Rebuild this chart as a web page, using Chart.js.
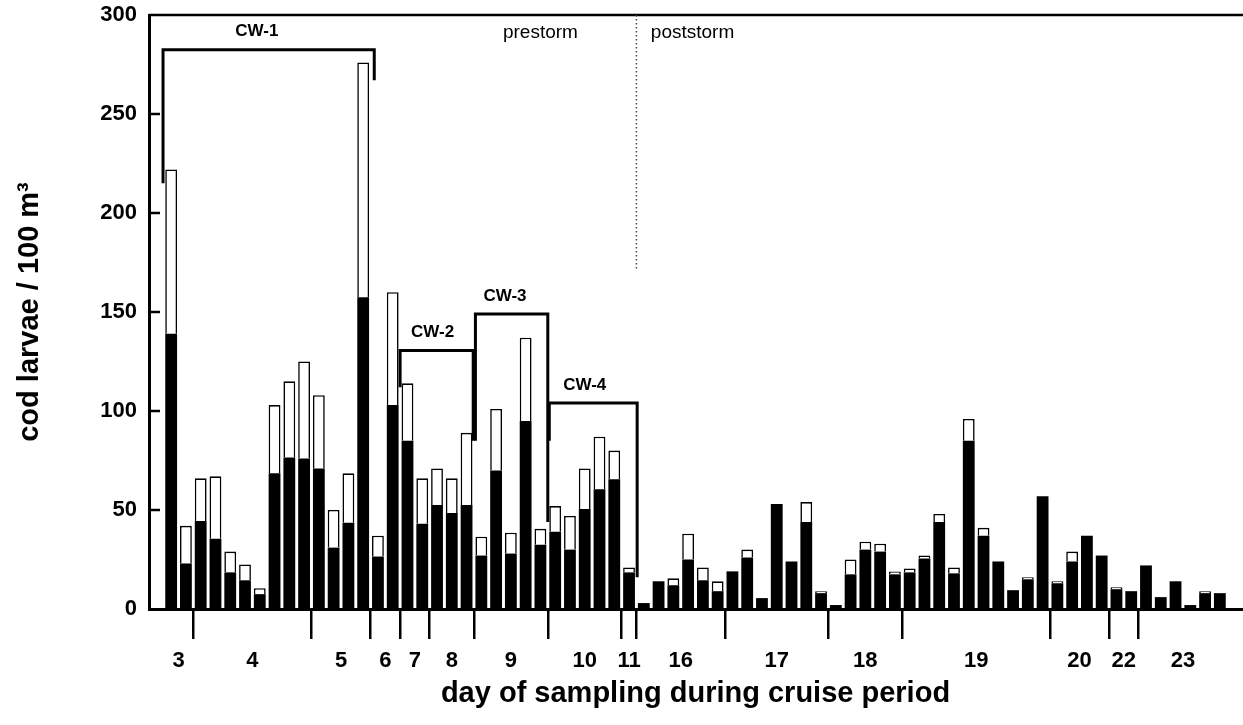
<!DOCTYPE html>
<html>
<head>
<meta charset="utf-8">
<script src="https://cdn.jsdelivr.net/npm/chart.js@4/dist/chart.umd.min.js"></script>
<style>
  html, body { margin: 0; padding: 0; background: #fff; }
  #wrap { width: 1243px; height: 725px; position: relative; }
</style>
</head>
<body>
<div id="wrap"><canvas id="cod-chart"></canvas></div>
<script>
'use strict';

// cod larvae per 100 m3, one bar per sample (total and black part)
const totalLarvae = [222, 42, 66, 67, 29, 22.5, 10.5, 103, 115, 125,
    108, 50, 68.5, 276, 37, 160, 114, 66, 71, 66,
    89, 36.5, 101, 38.5, 137, 40.5, 52, 47, 71, 87,
    80, 21, 3, 14, 15.5, 38, 21, 14, 19, 30,
    5.5, 53, 24, 54, 9, 2, 25, 34, 33, 19,
    20.5, 27, 48, 21, 96, 41, 24, 9.5, 16, 57,
    14, 29, 37, 27, 11, 9, 22, 6, 14, 2, 9, 8];
const blackLarvae = [139, 23, 44.5, 35.5, 18.5, 14.5, 7.5, 68.5, 76.5, 76,
    71, 31, 43.5, 157.5, 26.5, 103, 85, 43, 52.5, 48.5,
    52.5, 27, 70, 28, 95, 32.5, 39, 30, 50.5, 60.5,
    65.5, 18.5, 3, 14, 12, 25, 14.5, 9, 19, 26,
    5.5, 53, 24, 44, 8, 2, 17.5, 30, 29, 17.5,
    18.5, 25.5, 44, 18, 85, 37, 24, 9.5, 15, 57,
    13, 24, 37, 27, 10, 9, 22, 6, 14, 2, 8, 8];

// days of the cruise and how many samples each one has
const dayNames = ['3', '4', '5', '6', '7', '8', '9', '10', '11', '16', '17', '18', '19', '20', '22', '23'];
const samplesPerDay = [2, 8, 4, 2, 2, 3, 5, 5, 1, 6, 7, 5, 10, 4, 2, 6];

const yTicks = [0, 50, 100, 150, 200, 250, 300];

// CW brackets, in sample index / larvae units
const cwNames = ['CW-1', 'CW-2', 'CW-3', 'CW-4'];
const cwFrom = [0.45, 16.5, 21.6, 26.6];
const cwTo = [14.75, 21.45, 26.5, 32.55];
const cwLevel = [282.5, 130.5, 149, 104];
const cwLeftEnd = [215, 112, 85, 85];
const cwRightEnd = [267, 85, 44, 16];
const cwLabelAt = [6.8, 18.7, 23.6, 29.0];

const stormAt = 32.5;
const stormLineEnd = 171;
const periodNames = ['prestorm', 'poststorm'];
const periodLabelAt = [26.0, 36.3];

const FONT = '"Liberation Sans", Arial, sans-serif';

// build what the library needs
const nSamples = totalLarvae.length;
const labels = [''].concat(totalLarvae.map((v, i) => String(i + 1)), ['']);
const blackPart = [null].concat(blackLarvae, [null]);
const whitePart = [null].concat(totalLarvae.map((v, i) => +(v - blackLarvae[i]).toFixed(2)), [null]);

const dayBounds = [];
const dayCenters = [];
let run = 0;
samplesPerDay.forEach((n, i) => {
    dayCenters.push(run + (n + 1) / 2);
    run += n;
    if (i < samplesPerDay.length - 1) dayBounds.push(run + 0.5);
});
const xMin = -0.5;
const xMax = nSamples + 1.5;

const annotations = {
    id: 'annotations',
    afterDraw(chart) {
        const {ctx, chartArea} = chart;
        const x = chart.scales.x;
        const y = chart.scales.y;
        ctx.save();
        ctx.strokeStyle = '#000';
        ctx.lineCap = 'butt';

        // top frame line
        ctx.lineWidth = 2.5;
        ctx.beginPath();
        ctx.moveTo(chartArea.left, chartArea.top);
        ctx.lineTo(chart.width, chartArea.top);
        ctx.stroke();

        // inward y ticks
        yTicks.slice(1, -1).forEach(v => {
            const py = y.getPixelForValue(v);
            ctx.beginPath();
            ctx.moveTo(chartArea.left, py);
            ctx.lineTo(chartArea.left + 11, py);
            ctx.stroke();
        });

        // CW brackets
        ctx.lineWidth = 3;
        ctx.fillStyle = '#000';
        ctx.font = 'bold 17px ' + FONT;
        ctx.textAlign = 'center';
        ctx.textBaseline = 'middle';
        cwNames.forEach((name, i) => {
            const x0 = x.getPixelForValue(cwFrom[i]);
            const x1 = x.getPixelForValue(cwTo[i]);
            const py = y.getPixelForValue(cwLevel[i]);
            ctx.beginPath();
            ctx.moveTo(x0, y.getPixelForValue(cwLeftEnd[i]));
            ctx.lineTo(x0, py);
            ctx.lineTo(x1, py);
            ctx.lineTo(x1, y.getPixelForValue(cwRightEnd[i]));
            ctx.stroke();
            ctx.fillText(name, x.getPixelForValue(cwLabelAt[i]), py - 18);
        });

        // storm divider
        const sx = x.getPixelForValue(stormAt);
        ctx.lineWidth = 1.5;
        ctx.strokeStyle = '#444';
        ctx.setLineDash([1.5, 2.5]);
        ctx.beginPath();
        ctx.moveTo(sx, chartArea.top);
        ctx.lineTo(sx, y.getPixelForValue(stormLineEnd));
        ctx.stroke();
        ctx.setLineDash([]);

        ctx.font = '19px ' + FONT;
        periodNames.forEach((name, i) => {
            ctx.fillText(name, x.getPixelForValue(periodLabelAt[i]), chartArea.top + 18);
        });
        ctx.restore();
    }
};

const config = {
    type: 'bar',
    data: {
        labels: labels,
        datasets: [
            {
                label: 'black',
                data: blackPart,
                backgroundColor: '#000',
                borderWidth: 0,
                xAxisID: 'x',
                yAxisID: 'y',
            },
            {
                label: 'white',
                data: whitePart,
                backgroundColor: '#fff',
                borderColor: '#000',
                borderWidth: 1.6,
                xAxisID: 'x',
                yAxisID: 'y',
            },
        ]
    },
    options: {
        responsive: true,
        maintainAspectRatio: false,
        animation: false,
        barPercentage: 0.8,
        categoryPercentage: 1,
        layout: { padding: { top: 0, right: 1, left: 0, bottom: 0 } },
        plugins: { legend: false, tooltip: { enabled: false } },
        scales: {
            x: {
                display: false,
                stacked: true,
            },
            xTicks: {
                type: 'linear',
                position: 'bottom',
                weight: 1,
                min: xMin,
                max: xMax,
                offset: false,
                afterBuildTicks: s => { s.ticks = dayBounds.map(v => ({value: v})); },
                ticks: { display: false },
                grid: { offset: false, drawOnChartArea: false, drawTicks: true, tickLength: 30, color: '#000', lineWidth: 2.5 },
                border: { display: true, color: '#000', width: 3 },
                afterFit: s => { s.height = 30; },
            },
            xDays: {
                type: 'linear',
                position: 'bottom',
                weight: 2,
                min: xMin,
                max: xMax,
                offset: false,
                afterBuildTicks: s => { s.ticks = dayCenters.map(v => ({value: v})); },
                ticks: {
                    autoSkip: false,
                    maxRotation: 0,
                    padding: 1,
                    color: '#000',
                    font: { family: FONT, size: 22, weight: 'bold' },
                    callback: (v, i) => dayNames[i],
                },
                grid: { display: false, offset: false },
                border: { display: false },
                title: {
                    display: true,
                    text: 'day of sampling during cruise period',
                    color: '#000',
                    font: { family: FONT, size: 29, weight: 'bold' },
                    padding: { top: 0, bottom: 14 },
                },
                afterFit: s => { s.height = 86; },
            },
            y: {
                stacked: true,
                min: 0,
                max: 300,
                afterBuildTicks: s => { s.ticks = yTicks.map(v => ({value: v})); },
                ticks: {
                    padding: 4,
                    color: '#000',
                    font: { family: FONT, size: 22, weight: 'bold', lineHeight: 1.0 },
                },
                grid: { display: false },
                border: { display: true, color: '#000', width: 3 },
                title: {
                    display: true,
                    text: 'cod larvae / 100 m³',
                    color: '#000',
                    font: { family: FONT, size: 29, weight: 'bold' },
                    padding: { top: 13, bottom: 0 },
                },
                afterFit: s => { s.width = 149; },
            },
        },
    },
    plugins: [annotations],
};

window.addEventListener('load', () => {
    new Chart(document.getElementById('cod-chart'), config);
});
</script>
</body>
</html>
